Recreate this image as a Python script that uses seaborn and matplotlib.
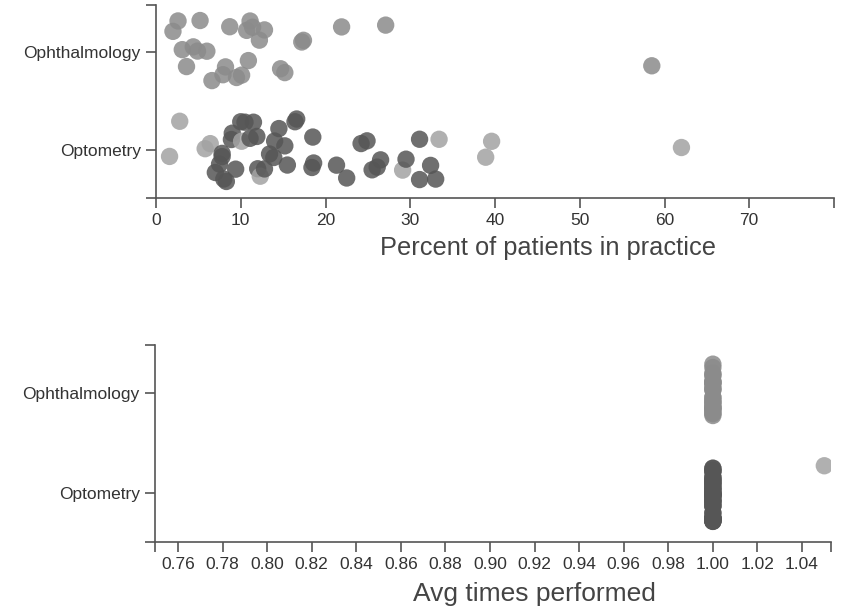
import numpy as np
import pandas as pd
import matplotlib
matplotlib.use("Agg")
import matplotlib.pyplot as plt
import seaborn as sns

# Specialties shown on the y axis
specialties = ["Ophthalmology", "Optometry"]

# Percent of patients in practice, per provider
ophth_pct = [2.0, 2.6, 3.1, 3.6, 4.4, 4.9, 5.2, 6.0, 6.6, 7.9, 8.2, 8.7, 9.5,
             10.1, 10.7, 10.9, 11.1, 11.4, 12.2, 12.8, 14.7, 15.2, 17.2, 17.4,
             21.9, 27.1, 58.5]
optom_pct = [1.6, 2.8, 5.8, 6.4, 7.0, 7.5, 7.8, 7.8, 8.0, 8.3, 8.9, 9.0, 9.4,
             10.0, 10.1, 10.5, 11.1, 11.5, 11.9, 12.0, 12.3, 12.8, 13.4, 13.9,
             14.0, 14.5, 15.2, 15.5, 16.4, 16.6, 18.4, 18.5, 18.6, 21.3, 22.5,
             24.2, 24.9, 25.5, 26.1, 26.5, 29.1, 29.5, 31.1, 31.1, 32.4, 33.0,
             33.4, 38.9, 39.6, 62.0]
# Shade group of each optometry provider (L = light, D = dark)
optom_tone = ["L", "L", "L", "L", "D", "D", "D", "D", "D", "D", "D", "D", "D",
              "D", "L", "D", "D", "D", "D", "D", "L", "D", "D", "D",
              "D", "D", "D", "D", "D", "D", "D", "D", "D", "D", "D",
              "D", "D", "D", "D", "D", "L", "D", "D", "D", "D", "D",
              "L", "L", "L", "L"]

# Average times performed, per provider
ophth_times = [1.00] * len(ophth_pct)
optom_times = [1.00] * (len(optom_pct) - 1) + [1.05]

# Tick labels of the lower panel
times_ticks = [0.76, 0.78, 0.80, 0.82, 0.84, 0.86, 0.88, 0.90, 0.92, 0.94,
               0.96, 0.98, 1.00, 1.02, 1.04]

df = pd.DataFrame({
    "specialty": [specialties[0]] * len(ophth_pct) + [specialties[1]] * len(optom_pct),
    "pct": ophth_pct + optom_pct,
    "times": ophth_times + optom_times,
    "tone": ["M"] * len(ophth_pct) + optom_tone,
})
# In the lower panel the stacked strips read as one shade per specialty;
# only providers off the 1.00 mark keep their light shade.
df["tone_times"] = np.where(df["times"] != 1.0, "L",
                            np.where(df["specialty"] == specialties[0], "M", "D"))

palette = {"M": "#8b8b8b", "D": "#565656", "L": "#a3a3a3"}

sns.set_theme(style="ticks")
plt.rcParams["font.family"] = ["Liberation Sans", "DejaVu Sans"]

fig = plt.figure(figsize=(8.48, 6.13), dpi=100)
W, H = 848, 613


def px_axes(left, top, right, bottom):
    return fig.add_axes([left / W, 1 - bottom / H, (right - left) / W, (bottom - top) / H])


ax1 = px_axes(156, 5, 834, 198)
ax2 = px_axes(155, 345, 831, 542)

np.random.seed(11)
sns.stripplot(data=df, x="pct", y="specialty", hue="tone", palette=palette,
              order=specialties, jitter=0.33, size=12.5, alpha=0.85,
              linewidth=0, legend=False, ax=ax1)
sns.stripplot(data=df, x="times", y="specialty", hue="tone_times", palette=palette,
              order=specialties, jitter=0.3, size=12.5, alpha=0.85,
              linewidth=0, legend=False, ax=ax2)

spine_c = "#555555"
for ax in (ax1, ax2):
    sns.despine(ax=ax)
    for s in ("left", "bottom"):
        ax.spines[s].set_color(spine_c)
        ax.spines[s].set_linewidth(1.2)
    ax.tick_params(which="both", length=7, width=1.2, color=spine_c,
                   labelsize=12.5, labelcolor="#333333", pad=4)
    ax.set_ylabel("")
    ax.set_ylim(1.49, -0.48)
    ax.set_yticks([0, 1])
    ax.set_yticklabels(specialties)
    ax.set_yticks([1.49, -0.48], minor=True)

ax1.set_xlim(0, 80)
ax1.set_xticks(np.arange(0, 80, 10))
ax1.set_xticks([80], minor=True)
ax1.set_xlabel("Percent of patients in practice", fontsize=18.3, color="#444444")
ax1.xaxis.set_label_coords((548 - 156) / 678, -0.195)

ax2.set_xlim(0.7497, 1.053)
ax2.set_xticks(times_ticks)
ax2.set_xticklabels([f"{v:.2f}" for v in times_ticks])
ax2.set_xticks([0.7497, 1.053], minor=True)
ax2.set_xlabel("Avg times performed", fontsize=19, color="#444444")
ax2.xaxis.set_label_coords((534 - 155) / 676, -0.205)

fig.savefig("out.png", dpi=100)
